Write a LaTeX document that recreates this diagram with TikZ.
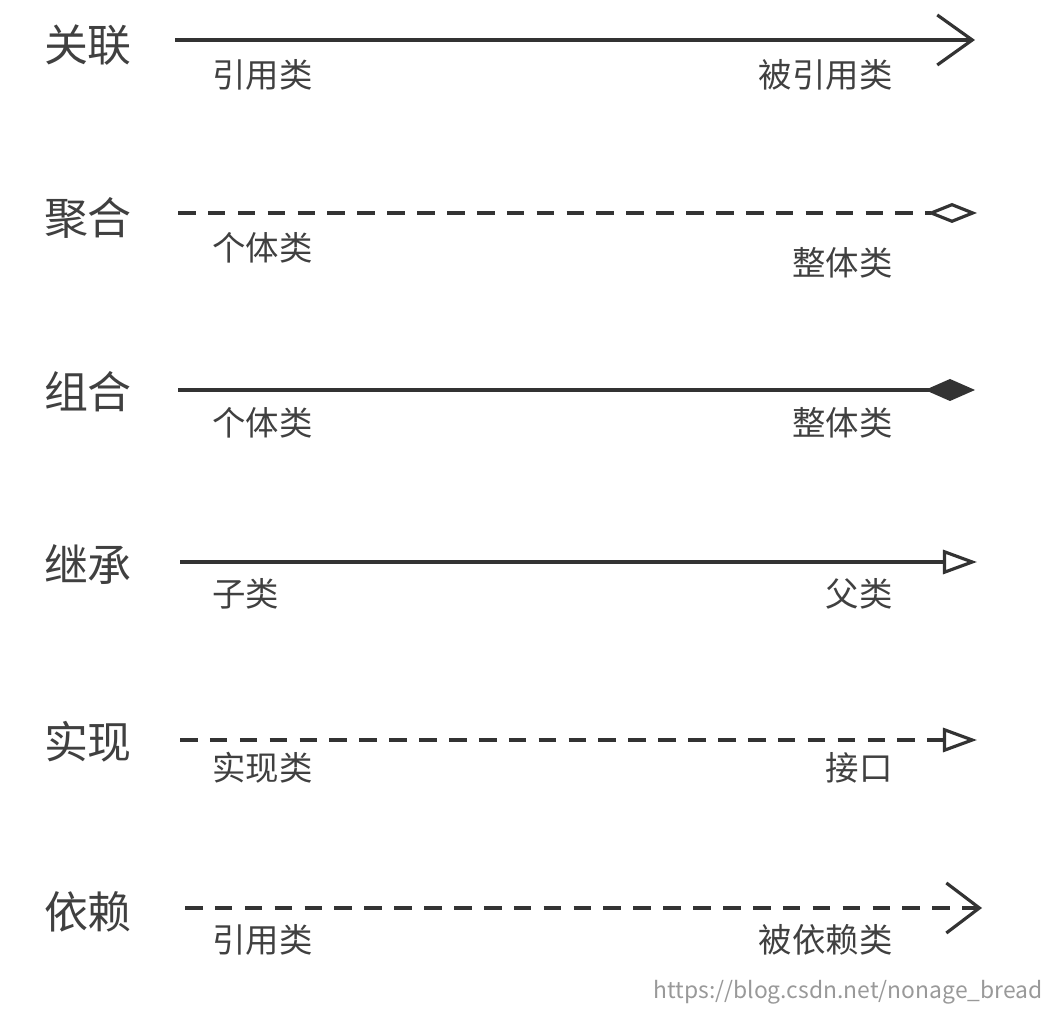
\documentclass[tikz,border=0pt]{standalone}
\usepackage{fontspec}
\setmainfont{Noto Sans CJK SC}
\usetikzlibrary{arrows.meta}

\tikzset{
  kind/.style={font=\fontsize{12.5}{14}\selectfont, text=black!75},
  role/.style={font=\fontsize{9.5}{11}\selectfont, text=black!75},
  link/.style={line width=0.9pt, draw=black!80},
  dashlink/.style={link, dash pattern=on 5pt off 3.5pt},
}

\begin{document}
\begin{tikzpicture}[x=0.01cm, y=-0.01cm]
    \useasboundingbox (0,0) rectangle (1060,1010);

    \node[kind] (k1) at (88,45) {关联};
    \node[kind] (k2) at (88,218) {聚合};
    \node[kind] (k3) at (88,392) {组合};
    \node[kind] (k4) at (88,565) {继承};
    \node[kind] (k5) at (88,742) {实现};
    \node[kind] (k6) at (88,912) {依赖};

    \coordinate (a1) at (175,40);  \coordinate (b1) at (975,40);
    \coordinate (a2) at (178,213); \coordinate (b2) at (977,213);
    \coordinate (a3) at (178,390); \coordinate (b3) at (975,390);
    \coordinate (a4) at (180,562); \coordinate (b4) at (977,562);
    \coordinate (a5) at (180,740); \coordinate (b5) at (977,740);
    \coordinate (a6) at (185,908); \coordinate (b6) at (982,908);

    \draw[link, -{Straight Barb[length=3.5mm, width=5mm, line width=0.9pt]}] (a1) -- (b1);
    \draw[dashlink, -{Diamond[open, length=5mm, width=2mm, line width=0.9pt]}] (a2) -- (b2);
    \draw[link, -{Diamond[length=5mm, width=2.2mm]}] (a3) -- (b3);
    \draw[link, -{Triangle[open, length=3.4mm, width=2.4mm, line width=0.9pt]}] (a4) -- (b4);
    \draw[dashlink, -{Triangle[open, length=3.4mm, width=2.4mm, line width=0.9pt]}] (a5) -- (b5);
    \draw[dashlink, -{Straight Barb[length=3.3mm, width=5mm, line width=0.9pt]}] (a6) -- (b6);

    \node[role, anchor=west] (l1) at (200,75) {引用类};
    \node[role, anchor=east] (r1) at (905,75) {被引用类};
    \node[role, anchor=west] (l2) at (200,248) {个体类};
    \node[role, anchor=east] (r2) at (905,263) {整体类};
    \node[role, anchor=west] (l3) at (200,423) {个体类};
    \node[role, anchor=east] (r3) at (905,423) {整体类};
    \node[role, anchor=west] (l4) at (200,594) {子类};
    \node[role, anchor=east] (r4) at (905,594) {父类};
    \node[role, anchor=west] (l5) at (200,768) {实现类};
    \node[role, anchor=east] (r5) at (905,768) {接口};
    \node[role, anchor=west] (l6) at (200,940) {引用类};
    \node[role, anchor=east] (r6) at (905,940) {被依赖类};

    \node[anchor=east, font=\fontsize{6.5}{8}\selectfont, text=black!40] (wm) at (1055,992) {https://blog.csdn.net/nonage\_bread};
\end{tikzpicture}
\end{document}
